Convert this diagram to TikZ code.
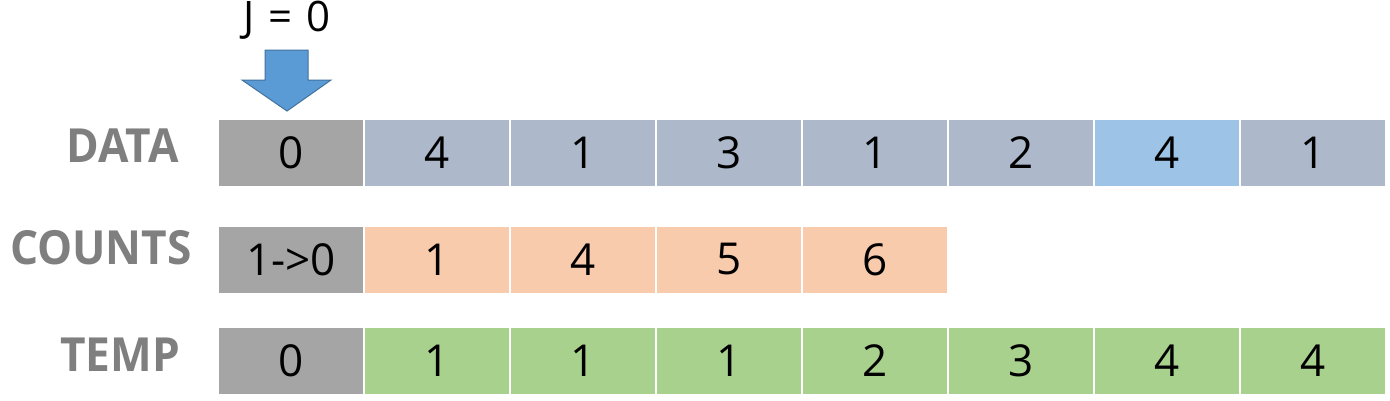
\documentclass[tikz,border=0pt]{standalone}
\usepackage{fontspec}
\setmainfont{Open Sans}
\definecolor{cgray}{HTML}{A5A5A5}
\definecolor{cdata}{HTML}{ADB9CA}
\definecolor{chi}{HTML}{9DC3E6}
\definecolor{ccnt}{HTML}{F8CBAD}
\definecolor{ctmp}{HTML}{A9D18E}
\definecolor{clab}{HTML}{7F7F7F}
\definecolor{carrow}{HTML}{5B9BD5}
\definecolor{carrowb}{HTML}{41719C}
\tikzset{
  cell/.style={minimum width=144pt, minimum height=66pt, inner sep=0pt, font=\fontsize{44}{44}\selectfont, text=black},
  rowlab/.style={font=\fontsize{47}{47}\bfseries\selectfont, text=clab, inner sep=0pt, anchor=east, xscale=0.94},
}
\begin{document}
\begin{tikzpicture}[x=1pt,y=-1pt]
\useasboundingbox[fill=white] (0,0) rectangle (1390,400);
% labels
\node[rowlab] (ldata) at (179,146) {DATA};
\node[rowlab] (lcnt) at (192,248) {COUNTS};
\node[rowlab] (ltmp) at (180,355) {TEMP};
% data row
\foreach \v [count=\i from 0] in {0,4,1,3,1,2,4,1}{
  \pgfmathsetmacro{\cx}{291+146*\i}
  \ifnum\i=0 \def\cc{cgray}\else\ifnum\i=6 \def\cc{chi}\else\def\cc{cdata}\fi\fi
  \node[cell, fill=\cc] (d\i) at (\cx,153) {\v};
}
% counts row
\foreach \v [count=\i from 0] in {1->0,1,4,5,6}{
  \pgfmathsetmacro{\cx}{291+146*\i}
  \ifnum\i=0 \def\cc{cgray}\else\def\cc{ccnt}\fi
  \node[cell, fill=\cc] (c\i) at (\cx,259.5) {\v};
}
% temp row
\foreach \v [count=\i from 0] in {0,1,1,1,2,3,4,4}{
  \pgfmathsetmacro{\cx}{291+146*\i}
  \ifnum\i=0 \def\cc{cgray}\else\def\cc{ctmp}\fi
  \node[cell, fill=\cc] (t\i) at (\cx,361) {\v};
}
% J = 0
\node[font=\fontsize{42}{42}\selectfont, inner sep=0pt] (jlab) at (287,20) {J\hspace{14pt}=\hspace{14pt}0};
% block arrow
\draw[fill=carrow, draw=carrowb, line width=1pt, line join=miter]
  (265,50) -- (308,50) -- (308,80) -- (331,80) -- (287,111) -- (242,80) -- (265,80) -- cycle;
\end{tikzpicture}
\end{document}
